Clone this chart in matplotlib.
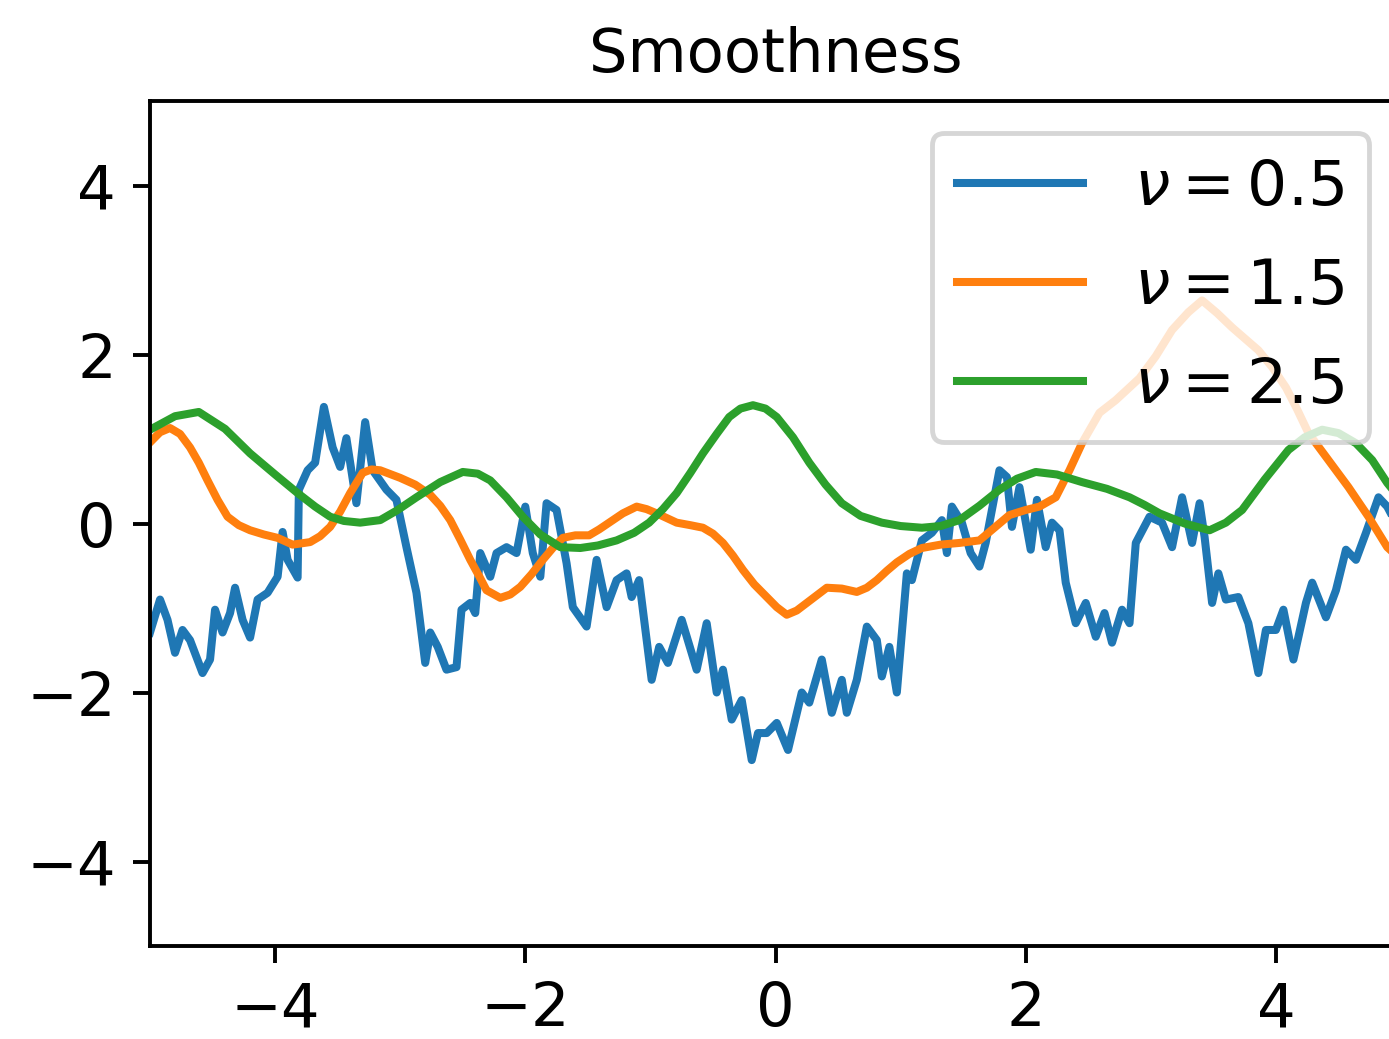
import matplotlib
matplotlib.use('Agg')
import matplotlib.pyplot as plt

# values
x_rough = [-5.00, -4.92, -4.86, -4.80, -4.74, -4.68, -4.58, -4.52, -4.48, -4.42,
           -4.36, -4.32, -4.26, -4.20, -4.14, -4.06, -3.98, -3.94, -3.90, -3.82,
           -3.81, -3.74, -3.68, -3.61, -3.54, -3.48, -3.43, -3.35, -3.28, -3.22,
           -3.11, -3.03, -2.95, -2.87, -2.80, -2.76, -2.70, -2.63, -2.55, -2.51,
           -2.44, -2.40, -2.36, -2.28, -2.23, -2.15, -2.07, -2.00, -1.94, -1.88,
           -1.83, -1.75, -1.67, -1.62, -1.51, -1.43, -1.35, -1.27, -1.19, -1.15,
           -1.09, -0.99, -0.93, -0.86, -0.75, -0.63, -0.55, -0.47, -0.42, -0.35,
           -0.27, -0.19, -0.14, -0.07, 0.01, 0.10, 0.21, 0.27, 0.37, 0.45,
           0.53, 0.57, 0.65, 0.73, 0.81, 0.85, 0.91, 0.97, 1.05, 1.09,
           1.17, 1.25, 1.33, 1.37, 1.41, 1.49, 1.56, 1.63, 1.68, 1.79,
           1.85, 1.89, 1.95, 2.04, 2.09, 2.16, 2.21, 2.27, 2.32, 2.40,
           2.48, 2.56, 2.63, 2.69, 2.77, 2.83, 2.88, 2.99, 3.09, 3.17,
           3.25, 3.33, 3.39, 3.43, 3.49, 3.54, 3.60, 3.70, 3.78, 3.86,
           3.92, 4.00, 4.06, 4.14, 4.24, 4.29, 4.40, 4.48, 4.56, 4.64,
           4.72, 4.82, 4.89, 4.99]
y_rough = [-1.29, -0.90, -1.14, -1.53, -1.26, -1.38, -1.77, -1.61, -1.02, -1.29,
           -1.06, -0.76, -1.14, -1.35, -0.90, -0.82, -0.63, -0.10, -0.43, -0.64,
           0.40, 0.63, 0.72, 1.38, 0.90, 0.67, 1.01, 0.24, 1.20, 0.63,
           0.40, 0.28, -0.28, -0.82, -1.65, -1.29, -1.46, -1.73, -1.70, -1.02,
           -0.94, -1.06, -0.35, -0.63, -0.35, -0.28, -0.35, 0.20, -0.35, -0.63,
           0.24, 0.16, -0.47, -0.99, -1.22, -0.43, -0.99, -0.67, -0.59, -0.87,
           -0.67, -1.85, -1.46, -1.65, -1.14, -1.73, -1.18, -2.00, -1.73, -2.32,
           -2.09, -2.80, -2.48, -2.48, -2.36, -2.68, -2.00, -2.12, -1.61, -2.24,
           -1.85, -2.24, -1.85, -1.22, -1.38, -1.81, -1.46, -2.00, -0.59, -0.67,
           -0.20, -0.11, 0.04, -0.35, 0.20, 0.01, -0.35, -0.51, -0.23, 0.63,
           0.55, -0.04, 0.43, -0.31, 0.28, -0.28, 0.01, -0.08, -0.70, -1.18,
           -0.94, -1.34, -1.06, -1.41, -1.02, -1.18, -0.23, 0.08, 0.01, -0.28,
           0.31, -0.23, 0.24, -0.16, -0.94, -0.59, -0.90, -0.87, -1.18, -1.77,
           -1.26, -1.26, -1.02, -1.61, -0.94, -0.70, -1.11, -0.79, -0.31, -0.43,
           -0.11, 0.31, 0.20, -0.08]

x_mid = [-5.00, -4.92, -4.84, -4.76, -4.68, -4.61, -4.54, -4.46, -4.38, -4.29,
         -4.20, -4.09, -3.98, -3.86, -3.72, -3.64, -3.56, -3.48, -3.40, -3.30,
         -3.23, -3.16, -3.00, -2.88, -2.76, -2.68, -2.60, -2.52, -2.44, -2.37,
         -2.31, -2.20, -2.12, -2.04, -1.95, -1.86, -1.78, -1.70, -1.60, -1.49,
         -1.41, -1.33, -1.22, -1.11, -1.03, -0.95, -0.79, -0.68, -0.58, -0.50,
         -0.42, -0.34, -0.26, -0.17, -0.07, 0.01, 0.09, 0.17, 0.25, 0.41,
         0.53, 0.65, 0.73, 0.81, 0.89, 0.97, 1.07, 1.17, 1.32, 1.47,
         1.63, 1.75, 1.87, 2.00, 2.11, 2.24, 2.35, 2.45, 2.59, 2.72,
         2.91, 3.04, 3.17, 3.30, 3.41, 3.53, 3.65, 3.86, 3.97, 4.08,
         4.17, 4.26, 4.42, 4.58, 4.74, 4.89, 5.00]
y_mid = [0.96, 1.08, 1.13, 1.06, 0.90, 0.72, 0.51, 0.28, 0.08, -0.02,
         -0.08, -0.13, -0.17, -0.25, -0.22, -0.15, -0.04, 0.14, 0.36, 0.60,
         0.64, 0.63, 0.54, 0.46, 0.34, 0.21, 0.04, -0.19, -0.43, -0.62,
         -0.79, -0.88, -0.84, -0.75, -0.60, -0.43, -0.29, -0.17, -0.14, -0.14,
         -0.07, 0.01, 0.12, 0.20, 0.17, 0.12, 0.01, -0.02, -0.05, -0.12,
         -0.23, -0.38, -0.55, -0.72, -0.87, -0.99, -1.08, -1.03, -0.94, -0.76,
         -0.77, -0.81, -0.76, -0.67, -0.56, -0.46, -0.36, -0.29, -0.25, -0.23,
         -0.20, -0.05, 0.10, 0.16, 0.20, 0.31, 0.63, 0.95, 1.31, 1.46,
         1.72, 1.98, 2.29, 2.50, 2.64, 2.49, 2.32, 2.05, 1.85, 1.61,
         1.35, 1.07, 0.75, 0.43, 0.08, -0.28, -0.43]

x_smooth = [-5.00, -4.80, -4.61, -4.40, -4.20, -4.00, -3.82, -3.68, -3.56, -3.45,
            -3.32, -3.16, -3.02, -2.87, -2.68, -2.50, -2.38, -2.28, -2.15, -2.02,
            -1.88, -1.72, -1.56, -1.42, -1.27, -1.13, -1.01, -0.90, -0.79, -0.68,
            -0.58, -0.47, -0.37, -0.28, -0.18, -0.08, 0.01, 0.14, 0.27, 0.40,
            0.53, 0.68, 0.85, 1.00, 1.17, 1.32, 1.47, 1.63, 1.79, 1.93,
            2.08, 2.25, 2.45, 2.65, 2.83, 2.95, 3.07, 3.27, 3.47, 3.60,
            3.73, 3.91, 4.10, 4.23, 4.37, 4.50, 4.64, 4.77, 4.89, 5.00]
y_smooth = [1.11, 1.27, 1.32, 1.12, 0.83, 0.58, 0.36, 0.20, 0.08, 0.03,
            0.01, 0.04, 0.16, 0.31, 0.49, 0.61, 0.59, 0.51, 0.31, 0.08,
            -0.13, -0.28, -0.29, -0.26, -0.20, -0.11, 0.01, 0.17, 0.36, 0.60,
            0.83, 1.06, 1.26, 1.36, 1.40, 1.36, 1.26, 1.02, 0.72, 0.46,
            0.24, 0.09, 0.01, -0.03, -0.05, -0.03, 0.04, 0.21, 0.40, 0.53,
            0.61, 0.58, 0.49, 0.41, 0.31, 0.22, 0.12, 0.00, -0.08, 0.01,
            0.16, 0.52, 0.87, 1.02, 1.11, 1.07, 0.95, 0.75, 0.48, 0.28]

labels = [r'$\nu = 0.5$', r'$\nu = 1.5$', r'$\nu = 2.5$']


def main():
    plot_smoothness()


def plot_smoothness():
    plt.rcParams['font.size'] = 12.5
    plt.rcParams['lines.linewidth'] = 1.65

    # create plot (axes run a little past the right edge, as in the source):
    figure = plt.figure(figsize=(1389 / 350, 1039 / 350), dpi=350)
    axes = figure.add_axes([150 / 1389, 93 / 1039, 1251 / 1389, 845 / 1039])

    # add data:
    axes.plot(x_rough, y_rough, label=labels[0])
    axes.plot(x_mid, y_mid, label=labels[1])
    axes.plot(x_smooth, y_smooth, label=labels[2])

    # plot make-up:
    axes.set_xlim(-5, 5)
    axes.set_ylim(-5, 5)
    axes.set_xticks([-4, -2, 0, 2, 4])
    axes.set_yticks([-4, -2, 0, 2, 4])
    axes.set_title('Smoothness', fontsize=12.5)
    axes.legend(loc='upper right', fontsize=13, labelspacing=0.62)

    figure.savefig('out.png', dpi=350)


if __name__ == '__main__':
    main()
